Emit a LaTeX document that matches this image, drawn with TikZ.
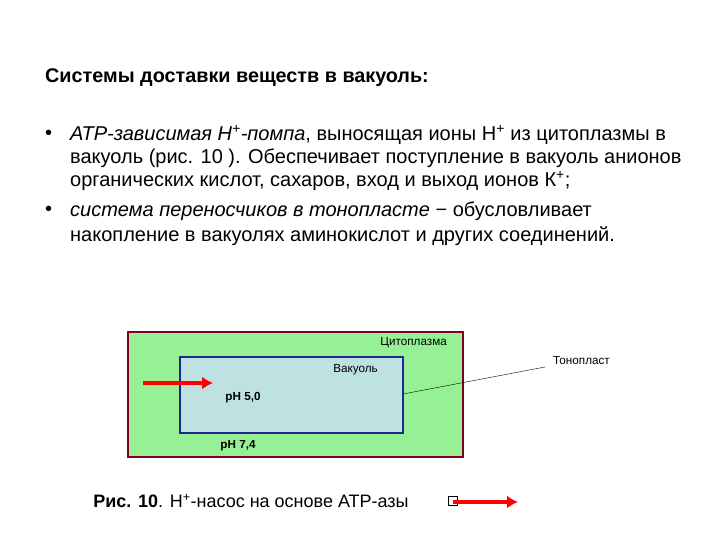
\documentclass[tikz,border=0pt]{standalone}
\usepackage{fontspec}
\setmainfont{Liberation Sans}
\usetikzlibrary{arrows.meta}
\begin{document}
\begin{tikzpicture}[x=1pt,y=-1pt,
  txt/.style={anchor=west,inner sep=0pt,font=\fontsize{20}{24}\selectfont},
  small/.style={inner sep=0pt,font=\fontsize{11.7}{14}\selectfont},
  redarrow/.style={draw=red,line width=4.5pt,-{Latex[length=11pt,width=13pt]}}]
\useasboundingbox (0,0) rectangle (720,540);
\node[txt,font=\fontsize{19.8}{24}\selectfont\bfseries] (title) at (45,78) {Системы доставки веществ в вакуоль:};
\node[txt] (b1) at (45,135) {•};
\node[txt] (l1) at (70,135) {\textit{АТР-зависимая Н\textsuperscript{+}-помпа}, выносящая ионы Н\textsuperscript{+} из цитоплазмы в};
\node[txt] (l2) at (70,158) {вакуоль (рис. 10 ). Обеспечивает поступление в вакуоль анионов};
\node[txt] (l3) at (70,181) {органических кислот, сахаров, вход и выход ионов К\textsuperscript{+};};
\node[txt] (b2) at (45,211) {•};
\node[txt] (l4) at (70,211) {\textit{система переносчиков в тонопласте} − обусловливает};
\node[txt] (l5) at (70,236) {накопление в вакуолях аминокислот и других соединений.};
\draw[draw={rgb,255:red,128;green,0;blue,32},line width=2pt,fill={rgb,255:red,150;green,240;blue,150}] (128,332) rectangle (463,457);
\draw[draw={rgb,255:red,30;green,40;blue,140},line width=2.5pt,fill={rgb,255:red,190;green,225;blue,225}] (180,357) rectangle (403,433);
\coordinate (a1) at (143,383); \coordinate (a2) at (213,383);
\draw[redarrow] (a1) -- (a2);
\node[small,anchor=east] (cyt) at (447,343) {Цитоплазма};
\node[small,anchor=east] (vac) at (378,370) {Вакуоль};
\node[small,font=\fontsize{11.7}{14}\selectfont\bfseries] (ph5) at (243,398) {pH 5,0};
\node[small,font=\fontsize{11.7}{14}\selectfont\bfseries] (ph7) at (238,446) {pH 7,4};
\node[small,anchor=west] (ton) at (553,361) {Тонопласт};
\coordinate (t1) at (403,394);
\draw[thin] (t1) -- (545,367);
\node[txt,anchor=center,font=\fontsize{18}{22}\selectfont] (cap) at (251,501) {\textbf{Рис.} \textbf{10}. Н\textsuperscript{+}-насос на основе АТР-азы};
\node[draw,thin,minimum size=9pt,inner sep=0pt] (sq) at (453,501) {};
\coordinate (b2s) at (453,502);
\coordinate (b2e) at (518,502);
\draw[redarrow,line width=3.5pt] (b2s) -- (b2e);
\end{tikzpicture}
\end{document}
